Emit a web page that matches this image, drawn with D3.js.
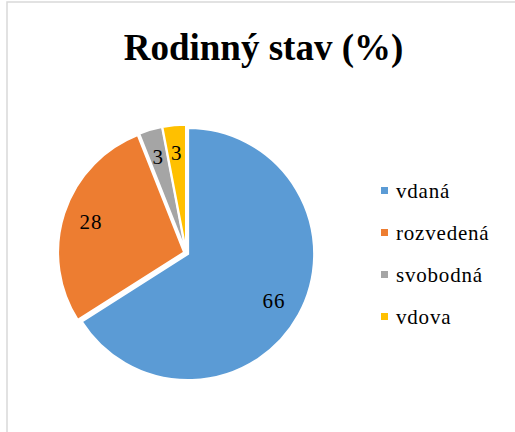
<!DOCTYPE html>
<html>
<head>
<meta charset="utf-8">
<script src="https://cdn.jsdelivr.net/npm/d3@7"></script>
<style>
  html, body { margin: 0; padding: 0; background: #fff; }
  svg { display: block; }
  text { font-family: "Liberation Serif", "Times New Roman", serif; }
</style>
</head>
<body>
<svg id="chart" width="515" height="432"></svg>
<script>
const title = "Rodinný stav (%)";
const categories = ["vdaná", "rozvedená", "svobodná", "vdova"];
const values = [66, 28, 3, 3];
const colors = ["#5B9BD5", "#ED7D31", "#A5A5A5", "#FFC000"];

const W = 515, H = 432;
const svg = d3.select("#chart");

// chart area border (only left and top visible)
svg.append("rect")
  .attr("x", 7).attr("y", 2)
  .attr("width", W + 20).attr("height", H + 20)
  .attr("fill", "#fff")
  .attr("stroke", "#D9D9D9").attr("stroke-width", 1.5);

svg.append("text")
  .attr("x", 263.5).attr("y", 60)
  .attr("text-anchor", "middle")
  .attr("font-size", 37).attr("font-weight", "bold")
  .attr("fill", "#000")
  .text(title);

const cx = 186.2, cy = 253, R = 126, explode = 2.2, labelR = 98;

const data = categories.map((c, i) => ({ cat: c, value: values[i], color: colors[i] }));
const pie = d3.pie().value(d => d.value).sort(null);
const arcs = pie(data);
const arc = d3.arc().innerRadius(0).outerRadius(R);
const labelArc = d3.arc().innerRadius(labelR).outerRadius(labelR);

const g = svg.append("g").attr("transform", `translate(${cx},${cy})`);

const slice = g.selectAll("g.slice").data(arcs).join("g")
  .attr("class", "slice")
  .attr("transform", d => {
    const a = (d.startAngle + d.endAngle) / 2;
    return `translate(${Math.sin(a) * explode},${-Math.cos(a) * explode})`;
  });

slice.append("path")
  .attr("d", arc)
  .attr("fill", d => d.data.color)
  .attr("stroke", "#fff").attr("stroke-width", 2)
  .attr("stroke-linejoin", "miter");

slice.append("text")
  .attr("transform", d => `translate(${labelArc.centroid(d)})`)
  .attr("text-anchor", "middle")
  .attr("dominant-baseline", "central")
  .attr("font-size", 21)
  .attr("letter-spacing", 1)
  .attr("fill", "#000")
  .text(d => d.data.value);

// legend
const legendY = d3.scalePoint().domain(categories).range([190.5, 316.5]);
const leg = svg.append("g").selectAll("g").data(data).join("g")
  .attr("transform", d => `translate(381,${legendY(d.cat)})`);
leg.append("rect")
  .attr("x", 0).attr("y", -3.5).attr("width", 7).attr("height", 7)
  .attr("fill", d => d.color);
leg.append("text")
  .attr("x", 15).attr("y", 0)
  .attr("dominant-baseline", "central")
  .attr("font-size", 21)
  .attr("letter-spacing", 0.8)
  .attr("fill", "#000")
  .text(d => d.cat);
</script>
</body>
</html>
